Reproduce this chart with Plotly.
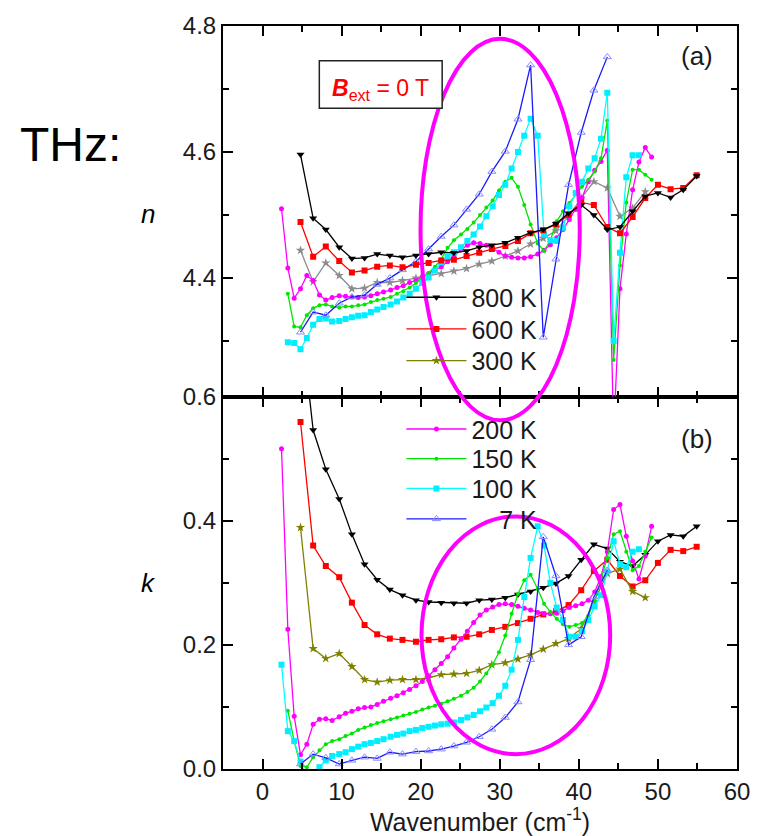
import plotly.graph_objects as go

# ---------------- data ----------------
x_coarse = [4.8, 6.4, 8.0, 9.7, 11.3, 12.9, 14.5, 16.1, 17.7, 19.4, 21.0, 22.6, 24.2, 25.8, 27.4, 29.0,
            30.7, 32.3, 33.9, 35.5, 37.1, 38.7, 40.3, 41.9, 43.6, 45.2, 46.8, 48.4, 50.0, 51.6, 53.2, 54.9]
x_fine = [2.4, 3.2, 4.0, 4.8, 5.6, 6.4, 7.2, 8.0, 8.8, 9.7, 10.5, 11.3, 12.1, 12.9, 13.7, 14.5, 15.3,
          16.2, 17.0, 17.8, 18.6, 19.4, 20.2, 21.0, 21.8, 22.6, 23.4, 24.2, 25.1, 25.9, 26.7, 27.5, 28.3,
          29.1, 29.9, 30.7, 31.5, 32.3, 33.1, 33.9, 34.8, 35.6, 36.4, 37.2, 38.0, 38.8, 39.6, 40.4, 41.2,
          42.0, 42.8, 43.6, 44.4, 45.2, 46.0, 46.8, 47.6, 48.4, 49.2]

x_800 = x_coarse
x_600 = x_coarse
x_300 = x_coarse[:28]
x_7 = x_coarse[:25]
x_200 = x_fine
x_150 = x_fine[1:]
x_100_n = x_fine[1:57]
x_100_k = x_fine[:57]

# refractive index n (panel a)
n_800 = [4.596, 4.495, 4.477, 4.449, 4.431, 4.432, 4.438, 4.436, 4.433, 4.436, 4.438, 4.441, 4.44, 4.443,
         4.449, 4.452, 4.456, 4.464, 4.472, 4.477, 4.486, 4.503, 4.516, 4.50, 4.477, 4.481, 4.506, 4.53,
         4.535, 4.528, 4.54, 4.562]
n_600 = [4.489, 4.434, 4.45, 4.427, 4.409, 4.412, 4.418, 4.42, 4.417, 4.421, 4.424, 4.428, 4.429, 4.435,
         4.44, 4.446, 4.451, 4.459, 4.471, 4.476, 4.485, 4.50, 4.52, 4.516, 4.481, 4.471, 4.497, 4.527,
         4.548, 4.541, 4.543, 4.563]
n_300 = [4.444, 4.394, 4.424, 4.404, 4.383, 4.384, 4.393, 4.393, 4.396, 4.40, 4.404, 4.407, 4.411, 4.415,
         4.422, 4.427, 4.435, 4.443, 4.454, 4.463, 4.475, 4.498, 4.527, 4.553, 4.543, 4.498, 4.511, 4.537]
n_200 = [4.51, 4.416, 4.368, 4.383, 4.404, 4.396, 4.373, 4.365, 4.369, 4.372, 4.371, 4.37, 4.369, 4.37,
         4.372, 4.375, 4.378, 4.381, 4.385, 4.388, 4.393, 4.396, 4.402, 4.407, 4.412, 4.418, 4.426, 4.435,
         4.445, 4.452, 4.456, 4.455, 4.452, 4.447, 4.441, 4.435, 4.433, 4.432, 4.432, 4.434, 4.438, 4.444,
         4.453, 4.464, 4.477, 4.493, 4.509, 4.527, 4.553, 4.571, 4.585, 4.603, 4.15, 4.383, 4.47, 4.54,
         4.584, 4.607, 4.592]
n_150 = [4.375, 4.323, 4.322, 4.341, 4.352, 4.357, 4.358, 4.355, 4.353, 4.355, 4.355, 4.357, 4.358, 4.362,
         4.365, 4.367, 4.37, 4.375, 4.379, 4.385, 4.392, 4.40, 4.408, 4.418, 4.43, 4.448, 4.46, 4.469,
         4.478, 4.488, 4.50, 4.512, 4.523, 4.539, 4.553, 4.559, 4.545, 4.516, 4.485, 4.455, 4.443, 4.46,
         4.49, 4.506, 4.519, 4.533, 4.545, 4.556, 4.569, 4.59, 4.65, 4.27, 4.42, 4.52, 4.572, 4.572,
         4.564, 4.556]
n_100 = [4.298, 4.297, 4.287, 4.305, 4.326, 4.335, 4.336, 4.331, 4.332, 4.335, 4.338, 4.34, 4.341, 4.346,
         4.35, 4.354, 4.358, 4.363, 4.369, 4.375, 4.383, 4.392, 4.401, 4.412, 4.425, 4.434, 4.441, 4.449,
         4.459, 4.469, 4.482, 4.498, 4.514, 4.532, 4.548, 4.574, 4.60, 4.626, 4.653, 4.626, 4.469, 4.46,
         4.459, 4.48, 4.514, 4.535, 4.553, 4.574, 4.59, 4.621, 4.694, 4.30, 4.44, 4.56, 4.595, 4.595]
n_7 = [4.314, 4.346, 4.341, 4.36, 4.37, 4.373, 4.39, 4.40, 4.413, 4.426, 4.446, 4.466, 4.484, 4.509,
       4.533, 4.569, 4.601, 4.652, 4.738, 4.306, 4.43, 4.548, 4.631, 4.698, 4.751]

# extinction coefficient k (panel b)
k_800 = [0.73, 0.546, 0.483, 0.435, 0.378, 0.33, 0.305, 0.289, 0.28, 0.272, 0.269, 0.268, 0.267, 0.267,
         0.272, 0.273, 0.276, 0.281, 0.286, 0.292, 0.299, 0.311, 0.337, 0.362, 0.355, 0.334, 0.327, 0.345,
         0.367, 0.377, 0.375, 0.391]
k_600 = [0.559, 0.36, 0.327, 0.309, 0.268, 0.232, 0.217, 0.21, 0.208, 0.205, 0.208, 0.209, 0.212, 0.213,
         0.217, 0.224, 0.229, 0.235, 0.242, 0.249, 0.254, 0.264, 0.288, 0.319, 0.337, 0.311, 0.294, 0.304,
         0.332, 0.353, 0.351, 0.358]
k_300 = [0.389, 0.194, 0.178, 0.186, 0.165, 0.144, 0.14, 0.143, 0.144, 0.144, 0.147, 0.152, 0.153, 0.154,
         0.159, 0.168, 0.171, 0.177, 0.184, 0.193, 0.202, 0.21, 0.226, 0.269, 0.315, 0.322, 0.286, 0.276]
k_200 = [0.516, 0.225, 0.085, 0.023, 0.04, 0.072, 0.08, 0.081, 0.078, 0.084, 0.09, 0.093, 0.097, 0.099,
         0.10, 0.104, 0.109, 0.114, 0.118, 0.123, 0.128, 0.134, 0.141, 0.15, 0.16, 0.17, 0.181, 0.195,
         0.209, 0.222, 0.236, 0.248, 0.256, 0.261, 0.265, 0.266, 0.265, 0.262, 0.259, 0.256, 0.252, 0.25,
         0.25, 0.251, 0.255, 0.26, 0.263, 0.266, 0.272, 0.285, 0.31, 0.35, 0.418, 0.426, 0.375, 0.335,
         0.306, 0.343, 0.391]
k_150 = [0.094, 0.045, 0.005, 0.003, 0.019, 0.03, 0.04, 0.045, 0.048, 0.053, 0.057, 0.063, 0.067, 0.071,
         0.074, 0.077, 0.08, 0.083, 0.086, 0.089, 0.092, 0.096, 0.099, 0.102, 0.105, 0.109, 0.113, 0.118,
         0.124, 0.131, 0.141, 0.154, 0.168, 0.188, 0.215, 0.25, 0.282, 0.304, 0.313, 0.29, 0.266, 0.253,
         0.242, 0.233, 0.229, 0.232, 0.235, 0.247, 0.272, 0.305, 0.34, 0.378, 0.383, 0.35, 0.32, 0.327,
         0.35, 0.373]
k_100 = [0.168, 0.061, 0.045, 0.012, -0.015, -0.01, 0.003, 0.014, 0.021, 0.024, 0.027, 0.032, 0.036, 0.04,
         0.042, 0.045, 0.048, 0.052, 0.055, 0.057, 0.061, 0.063, 0.066, 0.068, 0.07, 0.072, 0.073, 0.075,
         0.079, 0.083, 0.087, 0.093, 0.099, 0.106, 0.118, 0.134, 0.16, 0.208, 0.277, 0.34, 0.391, 0.36,
         0.30, 0.26, 0.24, 0.213, 0.213, 0.222, 0.24, 0.262, 0.28, 0.318, 0.367, 0.33, 0.325, 0.35, 0.354]
k_7 = [0.008, 0.024, 0.018, 0.008, 0.014, 0.019, 0.017, 0.027, 0.024, 0.028, 0.029, 0.032, 0.037, 0.043,
       0.052, 0.064, 0.083, 0.108, 0.176, 0.374, 0.311, 0.2, 0.213, 0.277, 0.32]

labels = ["800 K", "600 K", "300 K", "200 K", "150 K", "100 K", "\u2007\u20077 K"]

# ---------------- styles ----------------
FONT = "Liberation Sans, Arial, Helvetica, sans-serif"
styles = {
    "800": dict(color="#000000", symbol="triangle-down", size=7, mcolor="#000000"),
    "600": dict(color="#ff0000", symbol="square", size=6, mcolor="#ff0000"),
    "300": dict(color="#808000", symbol="star", size=7, mcolor="#808000"),
    "300g": dict(color="#8c8c8c", symbol="star", size=7, mcolor="#8c8c8c"),
    "200": dict(color="#ff00ff", symbol="circle", size=5, mcolor="#ff00ff"),
    "150": dict(color="#00e600", symbol="circle", size=4, mcolor="#00e600"),
    "100": dict(color="#00ffff", symbol="square", size=6, mcolor="#00eeff"),
    "7": dict(color="#1a1aff", symbol="triangle-up-open", size=7, mcolor="#8a8aff"),
}

fig = go.Figure()


def add(x, y, key, name, xa, ya, legend=None):
    s = styles[key]
    fig.add_trace(go.Scatter(
        x=x, y=y, mode="lines+markers", name=name,
        line=dict(color=s["color"], width=1.3),
        marker=dict(symbol=s["symbol"], size=s["size"], color=s["mcolor"],
                    line=dict(width=1 if "open" in s["symbol"] else 0, color=s["mcolor"])),
        xaxis=xa, yaxis=ya, showlegend=legend is not None,
        legend=legend if legend else "legend",
    ))


# panel (a): n
add(x_300, n_300, "300g", "300 K", "x2", "y2")
add(x_200, n_200, "200", "200 K", "x2", "y2")
add(x_150, n_150, "150", "150 K", "x2", "y2")
add(x_100_n, n_100, "100", "100 K", "x2", "y2")
add(x_7, n_7, "7", "7 K", "x2", "y2")
add(x_600, n_600, "600", "600 K", "x2", "y2")
add(x_800, n_800, "800", "800 K", "x2", "y2")

# panel (b): k (these carry the legend entries, one legend box per entry)
add(x_800, k_800, "800", labels[0], "x", "y", "legend")
add(x_600, k_600, "600", labels[1], "x", "y", "legend2")
add(x_300, k_300, "300", labels[2], "x", "y", "legend3")
add(x_200, k_200, "200", labels[3], "x", "y", "legend4")
add(x_150, k_150, "150", labels[4], "x", "y", "legend5")
add(x_100_k, k_100, "100", labels[5], "x", "y", "legend6")
add(x_7, k_7, "7", labels[6], "x", "y", "legend7")

SPLIT = 0.5013
common = dict(showline=True, linecolor="black", linewidth=2, mirror="ticks", ticks="inside",
              ticklen=10, tickwidth=1.5, tickcolor="black", showgrid=False, zeroline=False,
              tickfont=dict(family=FONT, size=24, color="#1a1a1a"))
minor = dict(ticks="inside", ticklen=6, tickwidth=1.5, tickcolor="black", showgrid=False)

legend_y = [0.6346, 0.592, 0.5493, 0.4573, 0.4173, 0.3773, 0.3363]
legends = {}
for i, ly in enumerate(legend_y):
    key = "legend" if i == 0 else f"legend{i + 1}"
    legends[key] = dict(x=0.3471, y=ly, xanchor="left", yanchor="middle", bgcolor="rgba(0,0,0,0)",
                        font=dict(family=FONT, size=25, color="#1a1a1a"), itemwidth=60)

fig.update_layout(
    width=762, height=836,
    margin=dict(l=223, r=16, t=20, b=66),
    paper_bgcolor="white", plot_bgcolor="white",
    font=dict(family=FONT, size=24, color="#1a1a1a"),
    xaxis=dict(domain=[0, 1], anchor="y", range=[-5, 60], tick0=0, dtick=10,
               minor=dict(dtick=5, **minor),
               title=dict(text="Wavenumber (cm<sup>-1</sup>)", font=dict(family=FONT, size=25), standoff=2),
               **common),
    xaxis2=dict(domain=[0, 1], anchor="y2", matches="x", range=[-5, 60], tick0=0, dtick=10,
                minor=dict(dtick=5, **minor), showticklabels=False, **common),
    yaxis=dict(domain=[0, SPLIT], anchor="x", range=[0, 0.6], tick0=0, dtick=0.2, tickformat=".1f",
               minor=dict(dtick=0.1, **minor), **common),
    yaxis2=dict(domain=[SPLIT, 1], anchor="x2", range=[4.212, 4.8], tick0=0, dtick=0.2, tickformat=".1f",
                minor=dict(dtick=0.1, **minor), **common),
    **legends,
)

# ellipses highlighting the phonon region, box and labels
fig.add_shape(type="circle", xref="paper", yref="paper", x0=0.3843, x1=0.6941, y0=0.4693, y1=0.9827,
              line=dict(color="#ff00ff", width=4))
fig.add_shape(type="circle", xref="paper", yref="paper", x0=0.3862, x1=0.7533, y0=0.02, y1=0.34,
              line=dict(color="#ff00ff", width=4))
fig.add_shape(type="rect", xref="paper", yref="paper", x0=0.1874, x1=0.4264, y0=0.8893, y1=0.9533,
              line=dict(color="#222222", width=1.5), fillcolor="white")

ann = [
    dict(text="THz:", x=-0.296, y=0.84, size=48, color="#000000"),
    dict(text="<i>n</i>", x=-0.1453, y=0.747, size=26, color="#000000"),
    dict(text="<i>k</i>", x=-0.1453, y=0.251, size=26, color="#000000"),
    dict(text="(a)", x=0.9216, y=0.96, size=26, color="#1a1a1a"),
    dict(text="(b)", x=0.9216, y=0.444, size=26, color="#1a1a1a"),
    dict(text="<b><i>B</i></b><sub>ext</sub> = 0 T", x=0.306, y=0.9147, size=23, color="#ff0000"),
]
for a in ann:
    fig.add_annotation(text=a["text"], x=a["x"], y=a["y"], xref="paper", yref="paper",
                       showarrow=False, xanchor="center", yanchor="middle",
                       font=dict(family=FONT, size=a["size"], color=a["color"]))

fig.write_html("out.html")
